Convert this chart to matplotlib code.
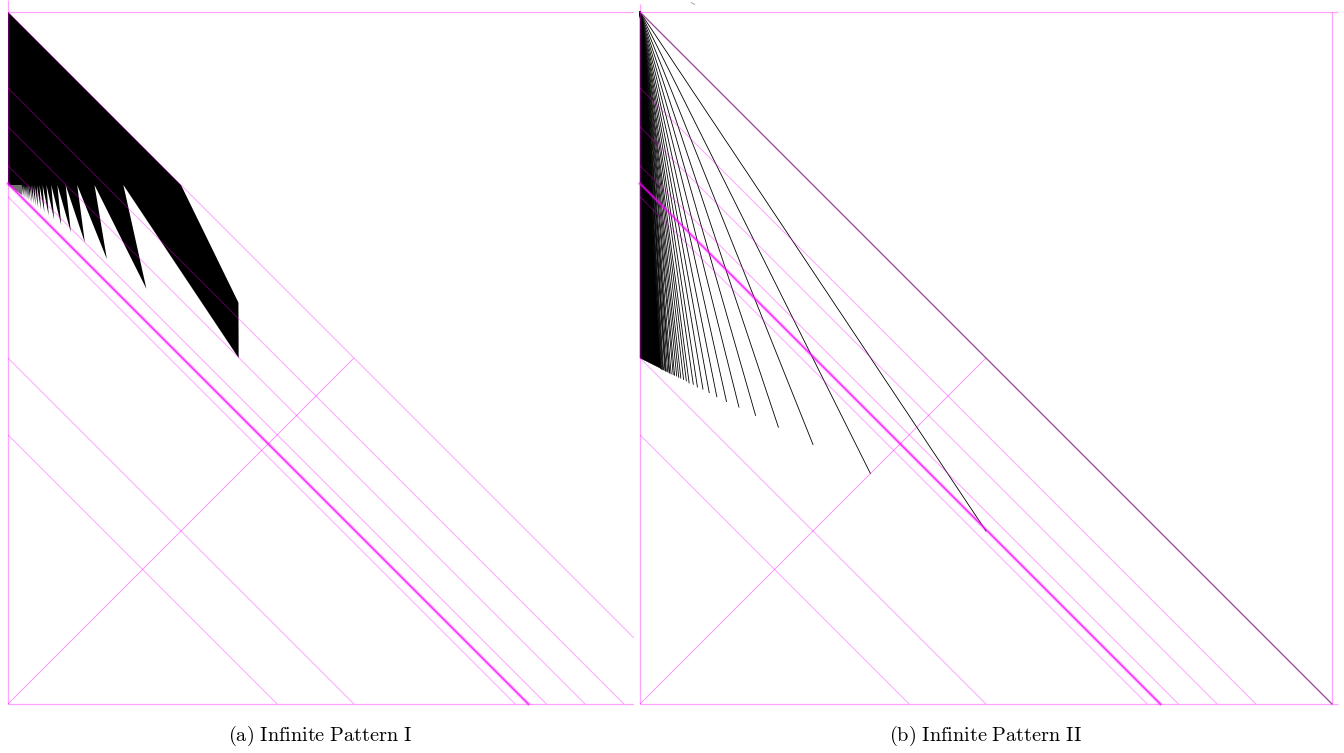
import matplotlib
matplotlib.use("Agg")
import matplotlib.pyplot as plt
from matplotlib.patches import Polygon

plt.rcParams['mathtext.fontset'] = 'cm'

# Space-time diagrams on the unit square: u runs right, v (time) runs down.

# Descending (slope 1) signals entering from the left edge at these times
MAGENTA_LEFT_V = [0.110, 0.166, 0.222, 0.267, 0.500, 0.611]
THICK_LEFT_V = 0.248

# Ascending signal from the bottom-left corner up to the diagonal
ASCEND_START = (0.0, 1.0)
ASCEND_END = (0.5, 0.5)

# Pattern I: solid block under the diagonal and its row of spikes
TOP_BLOCK = [(0.0, 0.0), (0.25, 0.25), (0.333, 0.42)]
SPIKE_TIP_U = [0.3333, 0.2000, 0.1429, 0.1111, 0.0909, 0.0769, 0.0667, 0.0588,
               0.0526, 0.0476, 0.0435, 0.0400, 0.0370, 0.0345, 0.0323, 0.0303,
               0.0286, 0.0270, 0.0256, 0.0244, 0.0233, 0.0222, 0.0213]
SPIKE_TIP_V = [0.5000, 0.4000, 0.3571, 0.3333, 0.3182, 0.3077, 0.3000, 0.2941,
               0.2895, 0.2857, 0.2826, 0.2800, 0.2778, 0.2759, 0.2742, 0.2727,
               0.2714, 0.2703, 0.2692, 0.2683, 0.2674, 0.2667, 0.2660]
SPIKE_NOTCH_U = [0.1667, 0.1250, 0.1000, 0.0833, 0.0714, 0.0625, 0.0556, 0.0500,
                 0.0455, 0.0417, 0.0385, 0.0357, 0.0333, 0.0313, 0.0294, 0.0278,
                 0.0263, 0.0250, 0.0238, 0.0227, 0.0217, 0.0208, 0.0200]
NOTCH_V = 0.25
FRINGE = [(0.0, 0.25), (0.0200, 0.25), (0.0200, 0.265)]

# Pattern II: fan of signals from the top-left corner
FAN_END_U = [0.500, 0.333, 0.250, 0.200, 0.167, 0.143, 0.125, 0.111,
             0.100, 0.091, 0.083, 0.077, 0.071, 0.067, 0.063, 0.059,
             0.056, 0.053, 0.050, 0.048, 0.045, 0.043, 0.042, 0.040,
             0.038, 0.037, 0.036, 0.034, 0.033, 0.032, 0.031, 0.030]
FAN_END_V = [0.750, 0.667, 0.625, 0.600, 0.583, 0.571, 0.563, 0.556,
             0.550, 0.545, 0.542, 0.538, 0.536, 0.533, 0.531, 0.529,
             0.528, 0.526, 0.525, 0.524, 0.523, 0.522, 0.521, 0.520,
             0.519, 0.519, 0.518, 0.517, 0.517, 0.516, 0.516, 0.515]
FAN_LOWER_CORNER = (0.0, 0.5)

CAPTIONS = ["(a) Infinite Pattern I", "(b) Infinite Pattern II"]

MAG = '#ff00ff'
FIG_W, FIG_H, SIDE = 1344, 753, 692

fig = plt.figure(figsize=(FIG_W / 100, FIG_H / 100), dpi=100)
fig.patch.set_facecolor('white')


def make_axes(px_left, px_right, origin_x, origin_y=12, px_bottom=712):
    ax = fig.add_axes([px_left / FIG_W, (FIG_H - px_bottom) / FIG_H,
                       (px_right - px_left) / FIG_W, px_bottom / FIG_H])
    ax.set_xlim((px_left - origin_x) / SIDE, (px_right - origin_x) / SIDE)
    ax.set_ylim((px_bottom - origin_y) / SIDE, -origin_y / SIDE)
    ax.axis('off')
    return ax


def thin(ax, p, q, **kw):
    style = dict(color=MAG, lw=0.7, alpha=0.36, solid_capstyle='butt', zorder=3)
    style.update(kw)
    ax.plot([p[0], q[0]], [p[1], q[1]], **style)


def collision_lines(ax):
    for v0 in MAGENTA_LEFT_V:
        thin(ax, (0.0, v0), (1.0 - v0, 1.0))
    ax.plot([0.0, 1.0 - THICK_LEFT_V], [THICK_LEFT_V, 1.0], color=MAG,
            lw=3.0, alpha=0.15, zorder=3)
    ax.plot([0.0, 1.0 - THICK_LEFT_V], [THICK_LEFT_V, 1.0], color=MAG,
            lw=1.3, alpha=0.75, zorder=4)
    thin(ax, ASCEND_START, ASCEND_END, alpha=0.42)


def frame(ax, right=None, top_ext=-0.015):
    thin(ax, (0.0, top_ext), (0.0, 1.0), lw=0.9)
    thin(ax, (0.0, 0.0), (1.008, 0.0), lw=0.9)
    thin(ax, (0.0, 1.0), (1.008, 1.0), lw=0.9)
    if right is not None:
        thin(ax, (right, 0.0), (right, 1.0), lw=0.9)


# ---- panel (a) ----
ax_a = make_axes(0, 634, 8)
outline = list(TOP_BLOCK)
for tu, tv, nu in zip(SPIKE_TIP_U, SPIKE_TIP_V, SPIKE_NOTCH_U):
    outline.append((tu, tv))
    outline.append((nu, NOTCH_V))
outline.append((0.0, NOTCH_V))
ax_a.add_patch(Polygon(outline, closed=True, facecolor='black',
                       edgecolor='none', zorder=2))
ax_a.add_patch(Polygon(FRINGE, closed=True, facecolor='black', alpha=0.55,
                       edgecolor='none', zorder=2))
thin(ax_a, (0.0, 0.0), (1.0, 1.0))
collision_lines(ax_a)
frame(ax_a, top_ext=-0.018)

# ---- panel (b) ----
ax_b = make_axes(636, FIG_W, 640)
core = [(0.0, 0.0), (FAN_END_U[-1], FAN_END_V[-1]), FAN_LOWER_CORNER]
ax_b.add_patch(Polygon(core, closed=True, facecolor='black',
                       edgecolor='black', lw=0.3, zorder=2))
for eu, ev in zip(FAN_END_U, FAN_END_V):
    ax_b.plot([0.0, eu], [0.0, ev], color='black', lw=0.6, zorder=2)
ax_b.plot([0.0, 1.0], [0.0, 1.0], color='#6a5a6a', lw=0.8, zorder=2)
thin(ax_b, (0.0, 0.0), (1.0, 1.0), lw=0.9, alpha=0.3)
collision_lines(ax_b)
frame(ax_b, right=1.0, top_ext=-0.011)
ax_b.plot([0.074, 0.079], [-0.0135, -0.011], color='#999999', lw=0.6)

# ---- captions ----
for cx, text in zip([320, 985], CAPTIONS):
    label = r'$\mathrm{' + text.replace(' ', r'\ ') + '}$'
    fig.text(cx / FIG_W, 1 - 736 / FIG_H, label, ha='center', va='center',
             fontsize=14.6)

fig.savefig('out.png', dpi=100, facecolor='white')
